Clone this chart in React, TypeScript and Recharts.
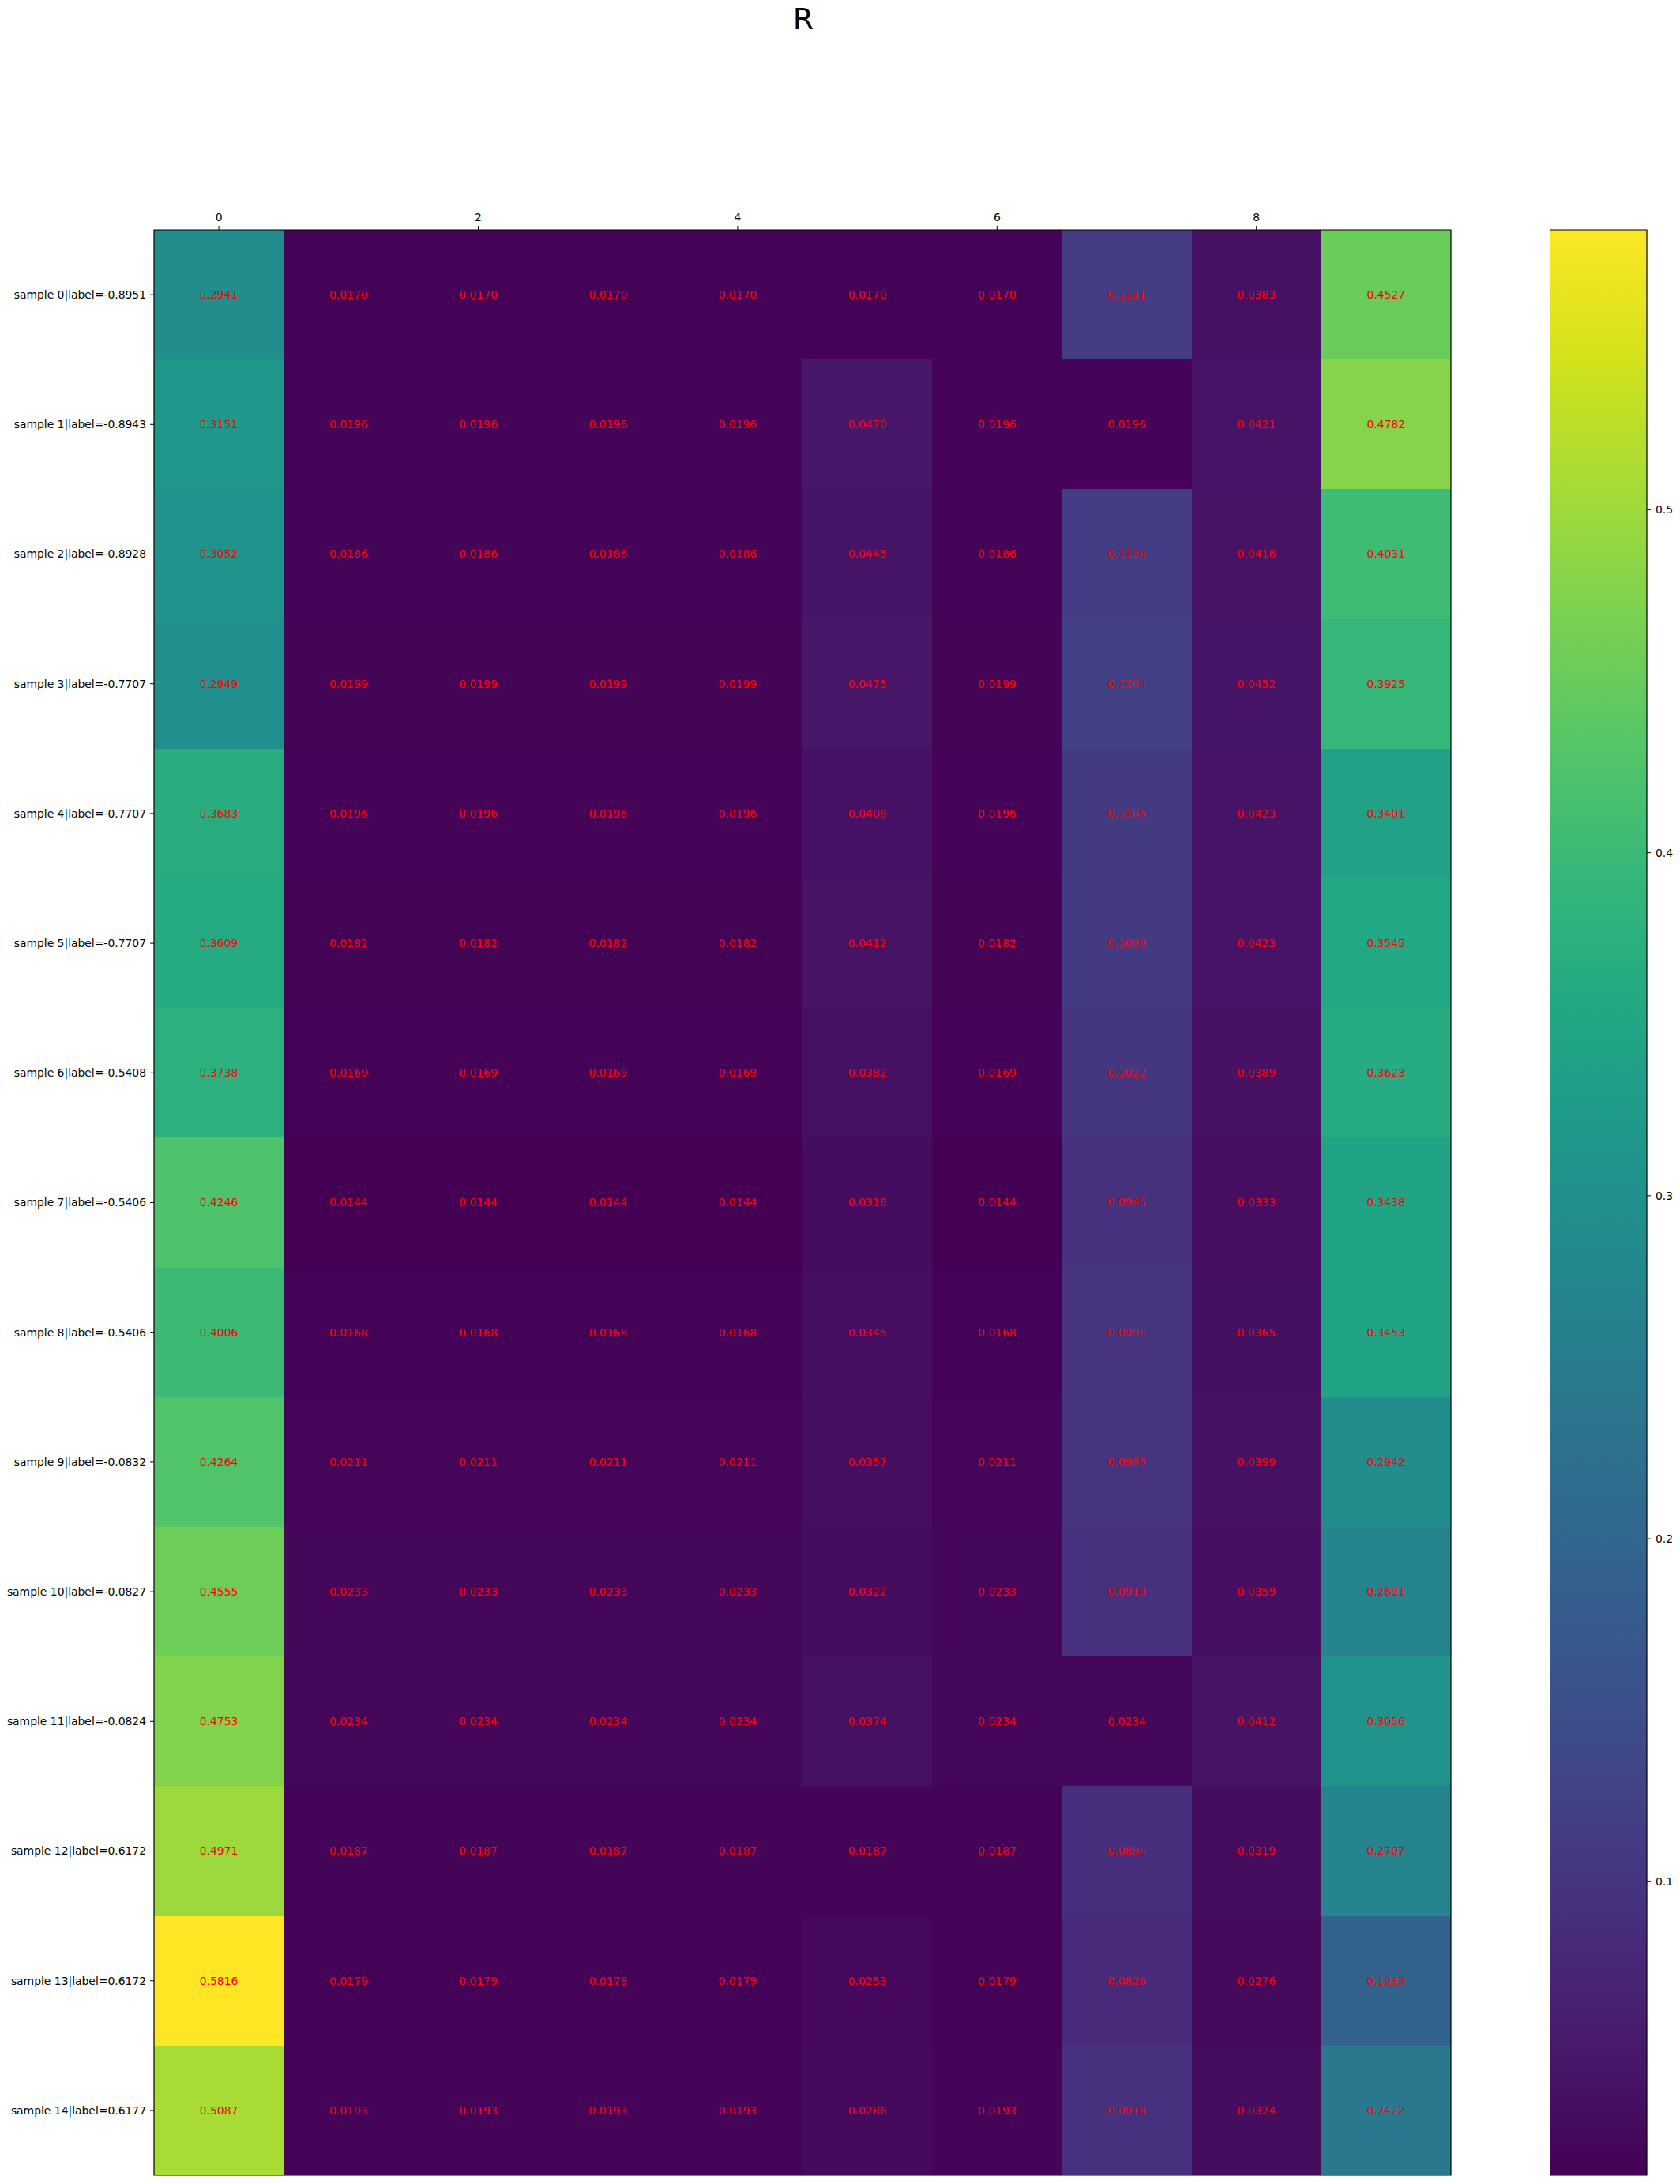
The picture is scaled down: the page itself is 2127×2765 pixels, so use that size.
import React from "react";
import {
  ScatterChart,
  Scatter,
  XAxis,
  YAxis,
  ReferenceArea,
} from "recharts";

// row labels (top to bottom)
const rowLabels: string[] = [
  "sample 0|label=-0.8951",
  "sample 1|label=-0.8943",
  "sample 2|label=-0.8928",
  "sample 3|label=-0.7707",
  "sample 4|label=-0.7707",
  "sample 5|label=-0.7707",
  "sample 6|label=-0.5408",
  "sample 7|label=-0.5406",
  "sample 8|label=-0.5406",
  "sample 9|label=-0.0832",
  "sample 10|label=-0.0827",
  "sample 11|label=-0.0824",
  "sample 12|label=0.6172",
  "sample 13|label=0.6172",
  "sample 14|label=0.6177",
];

// one array per column
const col0 = [0.2941, 0.3151, 0.3052, 0.2949, 0.3683, 0.3609, 0.3738, 0.4246, 0.4006, 0.4264, 0.4555, 0.4753, 0.4971, 0.5816, 0.5087];
const col1 = [0.017, 0.0196, 0.0186, 0.0199, 0.0196, 0.0182, 0.0169, 0.0144, 0.0168, 0.0211, 0.0233, 0.0234, 0.0187, 0.0179, 0.0193];
const col2 = [0.017, 0.0196, 0.0186, 0.0199, 0.0196, 0.0182, 0.0169, 0.0144, 0.0168, 0.0211, 0.0233, 0.0234, 0.0187, 0.0179, 0.0193];
const col3 = [0.017, 0.0196, 0.0186, 0.0199, 0.0196, 0.0182, 0.0169, 0.0144, 0.0168, 0.0211, 0.0233, 0.0234, 0.0187, 0.0179, 0.0193];
const col4 = [0.017, 0.0196, 0.0186, 0.0199, 0.0196, 0.0182, 0.0169, 0.0144, 0.0168, 0.0211, 0.0233, 0.0234, 0.0187, 0.0179, 0.0193];
const col5 = [0.017, 0.047, 0.0445, 0.0475, 0.0408, 0.0412, 0.0382, 0.0316, 0.0345, 0.0357, 0.0322, 0.0374, 0.0187, 0.0253, 0.0286];
const col6 = [0.017, 0.0196, 0.0186, 0.0199, 0.0196, 0.0182, 0.0169, 0.0144, 0.0168, 0.0211, 0.0233, 0.0234, 0.0187, 0.0179, 0.0193];
const col7 = [0.1131, 0.0196, 0.1124, 0.1204, 0.1105, 0.1099, 0.1022, 0.0945, 0.0994, 0.0985, 0.091, 0.0234, 0.0884, 0.0826, 0.0918];
const col8 = [0.0383, 0.0421, 0.0416, 0.0452, 0.0423, 0.0423, 0.0389, 0.0333, 0.0365, 0.0399, 0.0359, 0.0412, 0.0319, 0.0276, 0.0324];
const col9 = [0.4527, 0.4782, 0.4031, 0.3925, 0.3401, 0.3545, 0.3623, 0.3438, 0.3453, 0.2942, 0.2691, 0.3056, 0.2707, 0.1933, 0.2422];

const columns = [col0, col1, col2, col3, col4, col5, col6, col7, col8, col9];

const xTicks = [0, 2, 4, 6, 8];
const colorbarTicks = [0.1, 0.2, 0.3, 0.4, 0.5];

// viridis samples
const viridisStops = [
  "#440154", "#481A6C", "#472F7D", "#414487", "#39568C", "#31688E",
  "#2A788E", "#23888E", "#1F988B", "#22A884", "#35B779", "#54C568",
  "#7AD151", "#A5DB36", "#D2E21B", "#FDE725",
];

const hexToRgb = (h: string) => [
  parseInt(h.slice(1, 3), 16),
  parseInt(h.slice(3, 5), 16),
  parseInt(h.slice(5, 7), 16),
];

const viridis = (t: number): string => {
  const c = Math.max(0, Math.min(1, t)) * (viridisStops.length - 1);
  const i = Math.min(Math.floor(c), viridisStops.length - 2);
  const f = c - i;
  const a = hexToRgb(viridisStops[i]);
  const b = hexToRgb(viridisStops[i + 1]);
  const rgb = a.map((v, k) => Math.round(v + (b[k] - v) * f));
  return `rgb(${rgb[0]},${rgb[1]},${rgb[2]})`;
};

const allValues = columns.flat();
const vmin = Math.min(...allValues);
const vmax = Math.max(...allValues);

const cells = columns.flatMap((col, x) =>
  col.map((value, y) => ({ x, y, value }))
);

const font = "'DejaVu Sans', sans-serif";

const App: React.FC = () => {
  return (
    <div
      style={{
        position: "absolute",
        left: 0,
        top: 0,
        width: 2127,
        height: 2765,
        background: "#fff",
        fontFamily: font,
      }}
    >
      <div
        style={{
          position: "absolute",
          left: 917,
          top: 2,
          width: 200,
          textAlign: "center",
          fontSize: 38,
          lineHeight: "normal",
          color: "#000",
        }}
      >
        R
      </div>

      {/* heatmap */}
      <div style={{ position: "absolute", left: 0, top: 0 }}>
        <ScatterChart
          width={1850}
          height={2765}
          margin={{ top: 261, right: 13, bottom: 11, left: 0 }}
        >
          <XAxis
            type="number"
            dataKey="x"
            orientation="top"
            domain={[-0.5, 9.5]}
            ticks={xTicks}
            interval={0}
            allowDataOverflow
            height={30}
            axisLine={false}
            tickLine={{ stroke: "#000" }}
            tickSize={5}
            tickMargin={6}
            tick={{ fill: "#000", fontSize: 13.9 }}
          />
          <YAxis
            type="number"
            dataKey="y"
            domain={[-0.5, 14.5]}
            reversed
            ticks={rowLabels.map((_, i) => i)}
            interval={0}
            allowDataOverflow
            width={195}
            axisLine={false}
            tickLine={{ stroke: "#000" }}
            tickSize={5}
            tickMargin={5}
            tick={{ fill: "#000", fontSize: 13.9 }}
            tickFormatter={(i: number) => rowLabels[i] ?? ""}
          />
          {cells.map((c) => {
            const color = viridis((c.value - vmin) / (vmax - vmin));
            return (
              <ReferenceArea
                key={`${c.x}-${c.y}`}
                x1={c.x - 0.5}
                x2={c.x + 0.5}
                y1={c.y - 0.5}
                y2={c.y + 0.5}
                fill={color}
                fillOpacity={1}
                stroke="none"
                shapeRendering="crispEdges"
                label={{
                  value: c.value.toFixed(4),
                  position: "center",
                  fill: "red",
                  fontSize: 13.9,
                }}
              />
            );
          })}
          <ReferenceArea
            x1={-0.5}
            x2={9.5}
            y1={-0.5}
            y2={14.5}
            fill="none"
            stroke="#000"
            strokeWidth={1.2}
          />
          <Scatter
            data={cells}
            isAnimationActive={false}
            shape={() => <g />}
          />
        </ScatterChart>
      </div>

      {/* colorbar */}
      <div style={{ position: "absolute", left: 1962, top: 0 }}>
        <ScatterChart
          width={165}
          height={2765}
          margin={{ top: 291, right: 0, bottom: 11, left: 0 }}
        >
          <defs>
            <linearGradient id="viridisGrad" x1="0" y1="1" x2="0" y2="0">
              {viridisStops.map((c, i) => (
                <stop
                  key={c}
                  offset={`${(i / (viridisStops.length - 1)) * 100}%`}
                  stopColor={c}
                />
              ))}
            </linearGradient>
          </defs>
          <XAxis type="number" dataKey="x" domain={[0, 1]} hide />
          <YAxis
            type="number"
            dataKey="y"
            orientation="right"
            domain={[vmin, vmax]}
            ticks={colorbarTicks}
            interval={0}
            allowDataOverflow
            width={42}
            axisLine={false}
            tickLine={{ stroke: "#000" }}
            tickSize={5}
            tickMargin={6}
            tick={{ fill: "#000", fontSize: 13.9 }}
            tickFormatter={(v: number) => v.toFixed(1)}
          />
          <ReferenceArea
            x1={0}
            x2={1}
            y1={vmin}
            y2={vmax}
            fill="url(#viridisGrad)"
            fillOpacity={1}
            stroke="#000"
            strokeWidth={1.2}
          />
          <Scatter
            data={[{ x: 0.5, y: vmin }]}
            isAnimationActive={false}
            shape={() => <g />}
          />
        </ScatterChart>
      </div>
    </div>
  );
};

export default App;
